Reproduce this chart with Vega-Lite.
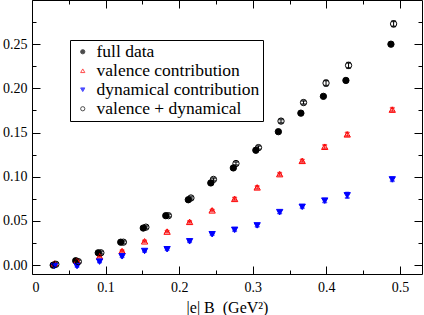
{
  "$schema": "https://vega.github.io/schema/vega-lite/v6.json",
  "width": 390,
  "height": 274,
  "autosize": {"type": "none"},
  "padding": {"left": 32, "top": 0, "right": 2, "bottom": 41},
  "config": {
    "view": {"stroke": "black", "strokeWidth": 1},
    "font": "'Liberation Serif', 'Times New Roman', serif",
    "axis": {
      "domain": false,
      "grid": false,
      "tickColor": "black",
      "tickWidth": 1,
      "labelColor": "black",
      "labelFont": "'Liberation Serif', 'Times New Roman', serif",
      "labelFontSize": 14,
      "titleFont": "'Liberation Serif', 'Times New Roman', serif",
      "titleFontSize": 16,
      "titleFontWeight": "normal",
      "titleColor": "black"
    },
    "legend": {
      "orient": "none", "legendX": 38, "legendY": 40,
      "strokeColor": "black", "fillColor": "white", "padding": 3,
      "symbolOffset": 1, "labelOffset": 5, "labelFontSize": 17.5,
      "labelFont": "'Liberation Serif', 'Times New Roman', serif", "labelColor": "black",
      "labelLimit": 400,
      "symbolSize": 18, "rowPadding": 0, "symbolStrokeWidth": 1,
      "labelExpr": "datum.label + '\u00a0\u00a0\u00a0\u00a0'"
    }
  },
  "data": {
    "values": [
      {"series": "full data", "x": 0.0288, "y": 0.000, "err": 0.001},
      {"series": "full data", "x": 0.0594, "y": 0.005, "err": 0.001},
      {"series": "full data", "x": 0.0900, "y": 0.014, "err": 0.001},
      {"series": "full data", "x": 0.1206, "y": 0.026, "err": 0.001},
      {"series": "full data", "x": 0.1512, "y": 0.042, "err": 0.001},
      {"series": "full data", "x": 0.1818, "y": 0.056, "err": 0.001},
      {"series": "full data", "x": 0.2124, "y": 0.074, "err": 0.001},
      {"series": "full data", "x": 0.2430, "y": 0.093, "err": 0.001},
      {"series": "full data", "x": 0.2736, "y": 0.110, "err": 0.001},
      {"series": "full data", "x": 0.3042, "y": 0.130, "err": 0.001},
      {"series": "full data", "x": 0.3348, "y": 0.151, "err": 0.001},
      {"series": "full data", "x": 0.3654, "y": 0.172, "err": 0.001},
      {"series": "full data", "x": 0.3960, "y": 0.191, "err": 0.001},
      {"series": "full data", "x": 0.4266, "y": 0.209, "err": 0.001},
      {"series": "full data", "x": 0.4878, "y": 0.250, "err": 0.001},
      {"series": "valence contribution", "x": 0.0306, "y": 0.002, "err": 0.001},
      {"series": "valence contribution", "x": 0.0612, "y": 0.005, "err": 0.001},
      {"series": "valence contribution", "x": 0.0918, "y": 0.010, "err": 0.001},
      {"series": "valence contribution", "x": 0.1224, "y": 0.016, "err": 0.001},
      {"series": "valence contribution", "x": 0.1530, "y": 0.027, "err": 0.001},
      {"series": "valence contribution", "x": 0.1836, "y": 0.038, "err": 0.001},
      {"series": "valence contribution", "x": 0.2142, "y": 0.049, "err": 0.001},
      {"series": "valence contribution", "x": 0.2448, "y": 0.062, "err": 0.001},
      {"series": "valence contribution", "x": 0.2754, "y": 0.075, "err": 0.0015},
      {"series": "valence contribution", "x": 0.3060, "y": 0.088, "err": 0.0015},
      {"series": "valence contribution", "x": 0.3366, "y": 0.103, "err": 0.0015},
      {"series": "valence contribution", "x": 0.3672, "y": 0.118, "err": 0.0015},
      {"series": "valence contribution", "x": 0.3978, "y": 0.134, "err": 0.002},
      {"series": "valence contribution", "x": 0.4284, "y": 0.148, "err": 0.002},
      {"series": "valence contribution", "x": 0.4896, "y": 0.176, "err": 0.002},
      {"series": "dynamical contribution", "x": 0.0306, "y": -0.001, "err": 0.001},
      {"series": "dynamical contribution", "x": 0.0612, "y": -0.001, "err": 0.001},
      {"series": "dynamical contribution", "x": 0.0918, "y": 0.004, "err": 0.001},
      {"series": "dynamical contribution", "x": 0.1224, "y": 0.010, "err": 0.001},
      {"series": "dynamical contribution", "x": 0.1530, "y": 0.016, "err": 0.001},
      {"series": "dynamical contribution", "x": 0.1836, "y": 0.018, "err": 0.001},
      {"series": "dynamical contribution", "x": 0.2142, "y": 0.027, "err": 0.001},
      {"series": "dynamical contribution", "x": 0.2448, "y": 0.035, "err": 0.001},
      {"series": "dynamical contribution", "x": 0.2754, "y": 0.040, "err": 0.0015},
      {"series": "dynamical contribution", "x": 0.3060, "y": 0.045, "err": 0.0015},
      {"series": "dynamical contribution", "x": 0.3366, "y": 0.060, "err": 0.0015},
      {"series": "dynamical contribution", "x": 0.3672, "y": 0.066, "err": 0.0015},
      {"series": "dynamical contribution", "x": 0.3978, "y": 0.073, "err": 0.002},
      {"series": "dynamical contribution", "x": 0.4284, "y": 0.079, "err": 0.003},
      {"series": "dynamical contribution", "x": 0.4896, "y": 0.097, "err": 0.002},
      {"series": "valence + dynamical", "x": 0.0324, "y": 0.001, "err": 0.0015},
      {"series": "valence + dynamical", "x": 0.0630, "y": 0.004, "err": 0.0015},
      {"series": "valence + dynamical", "x": 0.0936, "y": 0.014, "err": 0.0015},
      {"series": "valence + dynamical", "x": 0.1242, "y": 0.026, "err": 0.0015},
      {"series": "valence + dynamical", "x": 0.1548, "y": 0.043, "err": 0.0015},
      {"series": "valence + dynamical", "x": 0.1854, "y": 0.056, "err": 0.0015},
      {"series": "valence + dynamical", "x": 0.2160, "y": 0.076, "err": 0.0015},
      {"series": "valence + dynamical", "x": 0.2466, "y": 0.097, "err": 0.0015},
      {"series": "valence + dynamical", "x": 0.2772, "y": 0.115, "err": 0.002},
      {"series": "valence + dynamical", "x": 0.3078, "y": 0.133, "err": 0.002},
      {"series": "valence + dynamical", "x": 0.3384, "y": 0.163, "err": 0.002},
      {"series": "valence + dynamical", "x": 0.3690, "y": 0.184, "err": 0.002},
      {"series": "valence + dynamical", "x": 0.3996, "y": 0.206, "err": 0.003},
      {"series": "valence + dynamical", "x": 0.4302, "y": 0.226, "err": 0.003},
      {"series": "valence + dynamical", "x": 0.4914, "y": 0.273, "err": 0.003}
    ]
  },
  "layer": [
    {
      "mark": {"type": "errorbar", "ticks": {"size": 4}, "thickness": 1},
      "encoding": {
        "x": {
          "field": "x", "type": "quantitative",
          "scale": {"domain": [0, 0.53], "nice": false, "zero": false},
          "axis": {
            "orient": "bottom",
            "values": [0, 0.1, 0.2, 0.3, 0.4, 0.5],
            "tickSize": -8,
            "labelPadding": 14,
            "labelExpr": "datum.value == 0 ? '0' : format(datum.value, '.1f')",
            "title": "|e| B\u00a0 (GeV²)",
            "titlePadding": 5
          }
        },
        "y": {
          "field": "y", "type": "quantitative",
          "scale": {"domain": [-0.01, 0.30], "nice": false, "zero": false},
          "axis": {
            "orient": "left",
            "values": [0, 0.05, 0.1, 0.15, 0.2, 0.25],
            "tickSize": -8,
            "labelPadding": 13,
            "labelExpr": "format(datum.value, '.2f')",
            "title": null
          }
        },
        "yError": {"field": "err"},
        "stroke": {
          "field": "series", "type": "nominal",
          "scale": {
            "domain": ["full data", "valence contribution", "dynamical contribution", "valence + dynamical"],
            "range": ["black", "#ff0000", "#0000ff", "black"]
          },
          "title": null
        }
      }
    },
    {
      "mark": {"type": "point", "opacity": 1, "strokeWidth": 1, "size": 40},
      "encoding": {
        "x": {
          "field": "x", "type": "quantitative",
          "axis": {"orient": "bottom", "values": [0.05, 0.15, 0.25, 0.35, 0.45], "tickSize": -4, "labels": false, "title": null}
        },
        "y": {
          "field": "y", "type": "quantitative",
          "axis": {"orient": "left", "values": [0.025, 0.075, 0.125, 0.175, 0.225, 0.275], "tickSize": -4, "labels": false, "title": null}
        },
        "shape": {
          "field": "series", "type": "nominal",
          "scale": {
            "domain": ["full data", "valence contribution", "dynamical contribution", "valence + dynamical"],
            "range": ["circle", "triangle-up", "triangle-down", "circle"]
          },
          "legend": {
            "title": null,
            "encode": {"symbols": {"update": {"size": {"value": 18}}}}
          }
        },
        "fill": {
          "field": "series", "type": "nominal",
          "scale": {
            "domain": ["full data", "valence contribution", "dynamical contribution", "valence + dynamical"],
            "range": ["black", "transparent", "#0000ff", "transparent"]
          },
          "title": null
        },
        "stroke": {
          "field": "series", "type": "nominal",
          "scale": {
            "domain": ["full data", "valence contribution", "dynamical contribution", "valence + dynamical"],
            "range": ["black", "#ff0000", "#0000ff", "black"]
          },
          "title": null
        }
      }
    },
    {
      "mark": {"type": "point", "opacity": 0},
      "encoding": {
        "x": {
          "field": "x", "type": "quantitative",
          "axis": {"orient": "top", "values": [0, 0.1, 0.2, 0.3, 0.4, 0.5], "tickSize": -8, "labels": false, "title": null}
        },
        "y": {
          "field": "y", "type": "quantitative",
          "axis": {"orient": "right", "values": [0, 0.05, 0.1, 0.15, 0.2, 0.25], "tickSize": -8, "labels": false, "title": null}
        }
      }
    },
    {
      "mark": {"type": "point", "opacity": 0},
      "encoding": {
        "x": {
          "field": "x", "type": "quantitative",
          "axis": {"orient": "top", "values": [0.05, 0.15, 0.25, 0.35, 0.45], "tickSize": -4, "labels": false, "title": null}
        },
        "y": {
          "field": "y", "type": "quantitative",
          "axis": {"orient": "right", "values": [0.025, 0.075, 0.125, 0.175, 0.225, 0.275], "tickSize": -4, "labels": false, "title": null}
        }
      }
    }
  ],
  "resolve": {"axis": {"x": "independent", "y": "independent"}}
}
